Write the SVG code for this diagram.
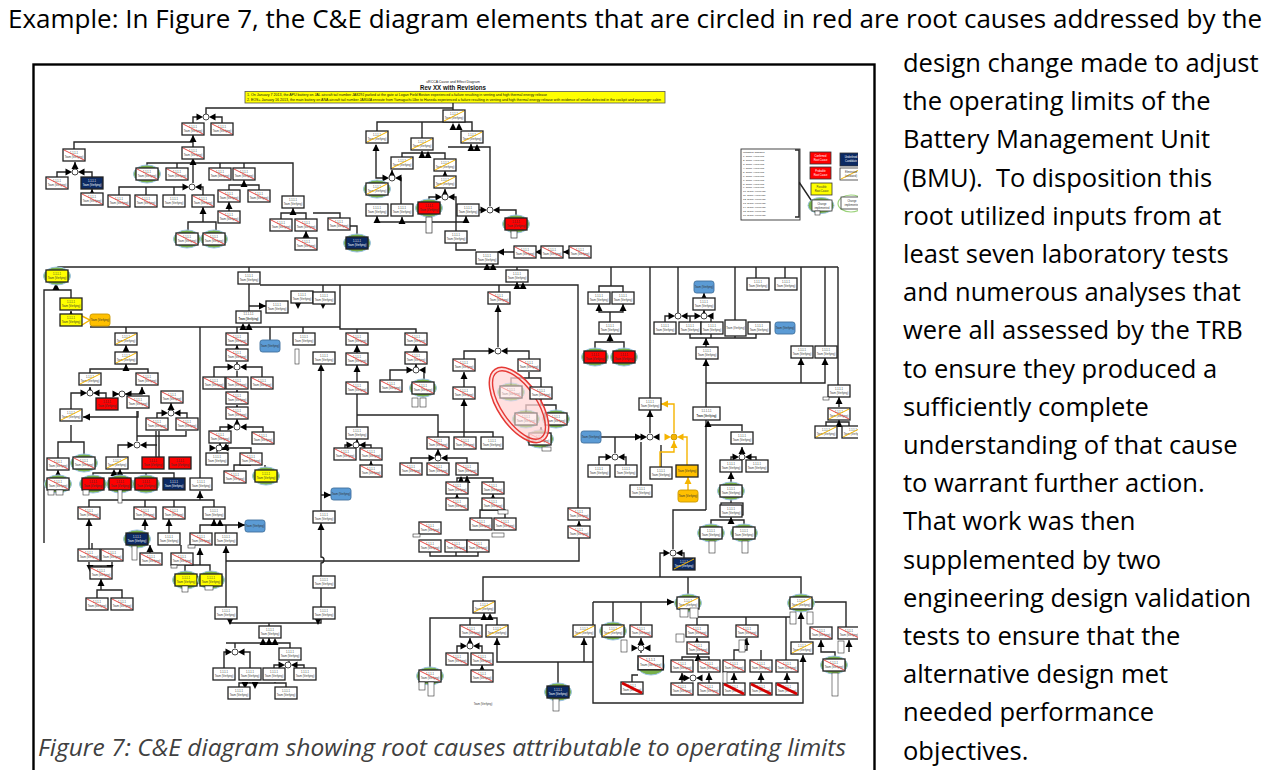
<svg xmlns="http://www.w3.org/2000/svg" xmlns:xlink="http://www.w3.org/1999/xlink" width="1270" height="770" viewBox="0 0 1270 770">
<style>
.t{font-family:"Open Sans","Noto Sans",sans-serif;font-size:25.5px;fill:#000}
.cap{font-family:"Open Sans","Noto Sans",sans-serif;font-style:italic;font-size:23px;fill:#404040}
.c{fill:none;stroke:#262626;stroke-width:1.4}
.co{fill:none;stroke:#f5b400;stroke-width:1.4}
.bx{fill:#fff;stroke:#222;stroke-width:1.3}
.tx{font-family:"Liberation Sans",Arial,sans-serif;font-size:2.6px;fill:#333;text-anchor:middle}
.tw{font-family:"Liberation Sans",Arial,sans-serif;font-size:2.6px;fill:#fff;text-anchor:middle}
.sr{stroke:#e53935;stroke-width:0.9}
.sy{stroke:#f4b400;stroke-width:1}
.ah{fill:#000}
.lg{font-family:"Liberation Sans",Arial,sans-serif;font-size:2.5px;fill:#222}
</style>
<defs>
<g id="bw"><rect class="bx" width="22" height="12"/><text class="tx" x="11" y="4.6">1.1.1.1</text><text class="tx" x="11" y="8.6">Team (Verifying)</text></g>
<g id="r"><use href="#bw"/><path class="sr" d="M1,1 L21,11"/></g>
<g id="y"><use href="#bw"/><path class="sy" d="M1,11 L21,1"/></g>
<g id="ry"><use href="#bw"/><path class="sr" d="M1,1 L21,11"/><path class="sy" d="M1,11 L21,1"/></g>
<g id="X"><use href="#bw"/><path d="M1,1 L21,11" stroke="#d50000" stroke-width="2.8"/></g>
<g id="R"><rect width="22" height="12" fill="#ff0000" stroke="#222" stroke-width="1.3"/><text class="tx" x="11" y="4.6">1.1.1.1</text><text class="tx" x="11" y="8.6">Team (Verifying)</text></g>
<g id="Y"><rect width="22" height="12" fill="#ffff00" stroke="#222" stroke-width="1.3"/><text class="tx" x="11" y="4.6">1.1.1.1</text><text class="tx" x="11" y="8.6">Team (Verifying)</text></g>
<g id="N"><rect width="22" height="12" fill="#0c2a63" stroke="#222" stroke-width="1.3"/><text class="tw" x="11" y="4.6">1.1.1.1</text><text class="tw" x="11" y="8.6">Team (Verifying)</text></g>
<g id="yN"><use href="#N"/><path class="sy" d="M1,11 L21,1"/></g>
<g id="B"><rect width="20" height="12" rx="2.5" fill="#5b9bd5" stroke="#41719c" stroke-width="0.9"/><text class="tx" x="10" y="7">Team (Verifying)</text></g>
<g id="O"><rect width="20" height="12" rx="2.5" fill="#ffc000" stroke="#c99700" stroke-width="0.9"/><text class="tx" x="10" y="7">Team (Verifying)</text></g>
<g id="Ob"><rect width="22" height="12" fill="#ffc000" stroke="#222" stroke-width="1.3"/><text class="tx" x="11" y="7">Team (Verifying)</text></g>
<ellipse id="ge" cx="11" cy="6" rx="13.5" ry="9" fill="#77b04a" stroke="#9cc3e5" stroke-width="1"/>
<g id="gr"><use href="#ge"/><use href="#r"/></g>
<g id="gy"><use href="#ge"/><use href="#y"/></g>
<g id="gw"><use href="#ge"/><use href="#bw"/></g>
<g id="gR"><use href="#ge"/><use href="#R"/></g>
<g id="gY"><use href="#ge"/><use href="#Y"/></g>
<g id="gN"><use href="#ge"/><use href="#N"/></g>
<path id="u" class="ah" d="M-3.5,7 L3.5,7 L0,0Z"/>
<path id="d" class="ah" d="M-3.5,-7 L3.5,-7 L0,0Z"/>
<path id="ar" class="ah" d="M-7,-3.5 L-7,3.5 L0,0Z"/>
<path id="al" class="ah" d="M7,-3.5 L7,3.5 L0,0Z"/>
<g id="j"><path class="ah" d="M-9.5,-3.5 L-3,0 L-9.5,3.5Z M9.5,-3.5 L3,0 L9.5,3.5Z"/><circle r="3" fill="#fff" stroke="#444" stroke-width="1"/></g>
<g id="jo"><path fill="#f5b400" d="M-9.5,-3.5 L-3,0 L-9.5,3.5Z M9.5,-3.5 L3,0 L9.5,3.5Z"/><circle r="3" fill="#f5b400" stroke="#c99700" stroke-width="0.9"/></g>
<clipPath id="cp"><rect x="35" y="66" width="823" height="704"/></clipPath>
</defs>

<rect width="1270" height="770" fill="#fff"/>

<g id="page-text">
<text class="t" x="8" y="28" textLength="1254" lengthAdjust="spacingAndGlyphs">Example: In Figure 7, the C&amp;E diagram elements that are circled in red are root causes addressed by the</text>
<text class="t" x="903" y="72">design change made to adjust</text>
<text class="t" x="903" y="110.2">the operating limits of the</text>
<text class="t" x="903" y="148.4">Battery Management Unit</text>
<text class="t" x="903" y="186.6" xml:space="preserve">(BMU).  To disposition this</text>
<text class="t" x="903" y="224.8">root utilized inputs from at</text>
<text class="t" x="903" y="263">least seven laboratory tests</text>
<text class="t" x="903" y="301.2">and numerous analyses that</text>
<text class="t" x="903" y="339.4">were all assessed by the TRB</text>
<text class="t" x="903" y="377.6">to ensure they produced a</text>
<text class="t" x="903" y="415.8">sufficiently complete</text>
<text class="t" x="903" y="454">understanding of that cause</text>
<text class="t" x="903" y="492.2">to warrant further action.</text>
<text class="t" x="903" y="530.4">That work was then</text>
<text class="t" x="903" y="568.6">supplemented by two</text>
<text class="t" x="903" y="606.8">engineering design validation</text>
<text class="t" x="903" y="645">tests to ensure that the</text>
<text class="t" x="903" y="683.2">alternative design met</text>
<text class="t" x="903" y="721.4">needed performance</text>
<text class="t" x="903" y="759.6">objectives.</text>
</g>

<g id="figure-frame">
<rect x="33.5" y="64.5" width="841" height="730" fill="none" stroke="#000" stroke-width="2.4"/>
<text class="cap" x="38" y="756" textLength="808" lengthAdjust="spacingAndGlyphs">Figure 7: C&amp;E diagram showing root causes attributable to operating limits</text>
</g>

<g clip-path="url(#cp)">
<g id="title">
<text x="453" y="82.5" text-anchor="middle" font-family="Liberation Sans, Arial, sans-serif" font-size="3.5" fill="#222">uRCCA Cause and Effect Diagram</text>
<text x="453" y="89.5" text-anchor="middle" font-family="Liberation Sans, Arial, sans-serif" font-size="7.5" font-weight="bold" fill="#111" textLength="66" lengthAdjust="spacingAndGlyphs">Rev XX with Revisions</text>
<rect x="245" y="91.5" width="420" height="11.5" fill="#ffff00" stroke="#555" stroke-width="0.8"/>
<text x="247" y="96" font-family="Liberation Sans, Arial, sans-serif" font-size="2.7" fill="#111" textLength="300" lengthAdjust="spacingAndGlyphs">1.     On January 7 2013, the APU battery on JAL aircraft tail number JA829J parked at the gate at Logan Field Boston experienced a failure resulting in venting and high thermal energy release</text>
<text x="247" y="100.5" font-family="Liberation Sans, Arial, sans-serif" font-size="2.7" fill="#111" textLength="414" lengthAdjust="spacingAndGlyphs">2.     EOS+ January 16 2013, the main battery on ANA aircraft tail number JA804A enroute from Yamaguchi-Ube to Haneda experienced a failure resulting in venting and high thermal energy release with evidence of smoke detected in the cockpit and passenger cabin</text>
</g>

<g id="connectors">
<path class="c" d="M453,103 V110 M206,114 V108 H453 M193,123 V117 H199 M222,123 V117 H213 M193,147 V135 M74,149 V142 H193 M75,167 V162 M57,177 V172 H68 M92,177 V172 H82 M92,193 V189"/>
<path class="c" d="M147,168 V163 H293 V196 M177,168 V163 M220,168 V163 M244,168 V163 M193,158 V183 M119,195 V187 H185 M146,195 V187 M174,195 V187 M203,195 V187 H199 M188,232 V222 H216 V232 M203,222 V207 M229,190 V185 H259 V190 M244,185 V180 M229,211 V202 M281,219 V213 H306 V219 M293,213 V208 M306,238 V231"/>
<path class="c" d="M377,131 V122 H472 V131 M453,122 V123 M422,138 V122 M376,145 V178 H384 M400,178 H401 V204 M402,157 V153 H445 V159 M422,151 V153 M445,176 V171 M392,174 V170 M429,202 V197 H437 M456,231 V197 H453 M445,193 V189 M479,210 H482 M516,218 V210 H498 M490,206 V147 H471 V144 M448,147 H471"/>
<path class="c" d="M376,222 H466 M377,222 V216 M402,222 V217 M429,222 V215 M466,222 V216 M541,252 H535 M569,252 H563 M514,252 H498 M456,243 V250 H476 M487,263 V267 M313,213 H340 V218 M357,236 V226 H339 V230"/>
<path class="c" d="M58,270 V267 H838 M249,267 V311 M249,306 H266 M323,285 V292 M260,285 H578 V508 M499,285 V292 M517,282 V285 M517,267 V270 M44,543 V290 H71 V298 M56,290 V283 M71,314 V311"/>
<path class="co" d="M82,316 L90,320 L82,325"/>
<path class="c" d="M90,327 H340 M340,285 V329 H416 V333 M357,329 V333 M200,327 V478 M126,327 V333 M126,352 V345 M90,373 V369 H148 V373 M126,369 V364 M90,387 V390 M71,409 V393 H82 M106,398 V393 H98 M114,394 H142 V387 M83,417 H138 V411"/>
<path class="c" d="M157,418 V413 H163 M187,418 V413 H179 M171,409 V403 M137,411 V441 M137,436 H186 V431 M156,431 V457 M159,431 V457 M118,457 V445 H129 M157,445 H145 M93,478 V473 H174 V478 M120,478 V469 M146,478 V473 M58,478 V470 M58,458 V442 H84 V457 M71,442 V425 M89,507 V500 H214 V507 M145,500 V507 M174,500 V507 M200,500 V491"/>
<path class="c" d="M237,327 V333 M237,349 V345 M237,362 V363 M214,377 V367 H229 M262,377 V367 H245 M237,377 V371 M237,392 V390 M237,407 V405 M237,419 V423 M220,431 V427 H229 M263,432 V427 H245 M217,453 V448 H251 V453 M220,448 V443 M234,471 V465 H251 M265,470 V465 M270,327 V340 M303,327 V333"/>
<path class="c" d="M357,353 V345 M357,382 V365 M357,394 V441 M357,415 H438 V437 M438,432 H493 V437 M416,352 V345 M416,364 V366 M390,380 V370 H407 M424,380 V370 H424 M321,367 V511 M321,523 V557 A3,3 0 0 1 321,563 V576 M321,588 V607 M321,495 H331"/>
<path class="c" d="M345,448 V445 H348 M371,448 V445 H365 M371,465 V461 M411,463 V458 H430 M467,463 V458 H446 M438,449 V454 M457,482 V478 H493 V482 M467,478 V476 M457,498 V494 M493,498 V494 M464,387 V372 M464,399 V438 M464,359 V351 H490 M529,359 V351 H506 M498,347 V305"/>
<path class="c" d="M529,372 V378 H541 V387 M511,385 V378 H529 M526,412 V405 H556 V412 M541,399 V405 M541,432 V427 M226,561 H579 V537 M579,521 V526"/>
<path class="c" d="M650,267 V398 M678,267 V313 M735,267 V320 M756,267 V278 M785,267 V278 M801,267 V346 M825,267 V346 M838,267 V385 M611,267 V286 M599,292 V286 H623 V292 M599,304 V312 H623 V304 M610,312 V322 M595,351 V342 H624 V351 M610,342 V334 M704,293 V298"/>
<path class="c" d="M665,322 V316 H670 M690,322 V316 H686 M696,316 H690 M711,322 V316 H712 M704,313 V310 M690,334 V338 H756 V334 M706,338 V347 M735,336 V338 M711,334 V338 M706,359 V407 M706,420 V510 M706,383 H825 V358 M801,383 V358 M839,397 V407 M826,426 V422 H849 V426 M839,420 V422"/>
<path class="c" d="M650,433 V410 M601,437 H642 M599,465 V457 H607 M626,465 V457 H623 M615,453 V437 M661,467 V445 M641,485 V442 M706,425 H742 V431 M742,447 V452 M731,460 V457 H734 M756,460 V457 H750 M731,483 V472 M731,503 V499"/>
<path class="co" d="M674,433 V404 H661 M687,465 V437 H682 M660,467 V452 H674 V441 M688,490 V477"/>
<path class="c" d="M731,520 V517 M711,526 V520 H744 V526 M660,577 V553 H665 M684,558 V553 H681 M673,549 V510 H706 M483,601 V577 H801 V597 M688,577 V597 M593,602 H674 M613,602 V624 M641,602 V625 M593,602 V703 H803 V655"/>
<path class="c" d="M690,617 H790 M697,617 V625 M746,617 V625 M786,617 V660 M697,638 V642 M682,660 V657 H709 V660 M698,654 V657 M682,673 V683 M709,673 V683 M747,638 V650 H734 V660 M761,650 V660 M734,673 V683 M761,673 V683 M787,673 V683 M641,638 V653 M632,682 V675 H638 M813,602 H846 V627 M821,640 V652 H835 V658 M849,640 V652 M801,612 V642"/>
<path class="c" d="M430,668 V618 H497 V625 M470,618 V625 M484,613 V618 M470,638 V642 M457,653 V646 H462 M482,653 V646 H478 M482,670 V665 M497,638 V662 H593 M558,662 V683 M584,638 V662 M430,552 V556 H478 V552 M456,552 V556 M480,518 V510 H505 V518 M457,510 V510"/>
<path class="c" d="M226,607 V546 M214,525 H245 M200,533 V525 H214 V519 M226,533 V525 M89,549 V519 M89,562 V566 H112 V562 M101,566 V567 M101,579 V590 M97,598 V590 H122 V598 M145,519 V530 M150,553 V545 M169,533 V519 M181,553 V545 M185,574 V565 H210 V574 M200,565 V548"/>
<path class="c" d="M230,619 V623 H321 V619 M269,626 V623 M226,643 H290 V648 M269,643 V638 M224,668 V652 H227 M250,668 V652 H243 M235,648 V643 M274,668 V665 H280 M304,668 V665 H297 M289,661 V665 M239,687 V683 H286 V687 M250,683 V682 M275,683 V682 M92,543 V549"/>
</g>

<g id="arrowheads">
<use href="#u" x="193" y="135"/><use href="#u" x="75" y="162"/><use href="#u" x="92" y="189"/><use href="#u" x="193" y="158"/><use href="#u" x="203" y="207"/><use href="#u" x="244" y="180"/><use href="#u" x="229" y="202"/><use href="#u" x="293" y="208"/><use href="#u" x="306" y="231"/>
<use href="#u" x="453" y="123"/><use href="#u" x="459" y="123"/><use href="#u" x="376" y="144"/><use href="#u" x="392" y="170"/><use href="#u" x="422" y="151"/><use href="#u" x="428" y="151"/><use href="#u" x="445" y="171"/><use href="#u" x="445" y="189"/><use href="#u" x="471" y="144"/><use href="#u" x="477" y="144"/><use href="#u" x="377" y="216"/><use href="#u" x="402" y="217"/><use href="#u" x="466" y="216"/><use href="#u" x="487" y="263"/><use href="#u" x="493" y="263"/><use href="#u" x="517" y="282"/><use href="#u" x="523" y="282"/>
<use href="#u" x="56" y="283"/><use href="#u" x="71" y="311"/><use href="#u" x="249" y="323"/><use href="#u" x="243" y="323"/><use href="#u" x="126" y="345"/><use href="#u" x="126" y="364"/><use href="#u" x="90" y="387"/><use href="#u" x="171" y="403"/><use href="#u" x="142" y="387"/><use href="#u" x="120" y="469"/><use href="#u" x="114" y="469"/><use href="#u" x="58" y="470"/><use href="#u" x="200" y="491"/>
<use href="#u" x="237" y="345"/><use href="#u" x="237" y="362"/><use href="#u" x="237" y="390"/><use href="#u" x="237" y="405"/><use href="#u" x="237" y="419"/><use href="#u" x="220" y="443"/><use href="#u" x="226" y="443"/><use href="#u" x="357" y="345"/><use href="#u" x="357" y="365"/><use href="#u" x="416" y="345"/><use href="#u" x="416" y="364"/><use href="#u" x="321" y="364"/><use href="#u" x="321" y="523"/><use href="#u" x="357" y="439"/><use href="#u" x="371" y="461"/><use href="#u" x="438" y="449"/><use href="#u" x="467" y="476"/><use href="#u" x="461" y="476"/><use href="#u" x="457" y="494"/><use href="#u" x="493" y="494"/><use href="#u" x="464" y="372"/><use href="#u" x="464" y="399"/><use href="#u" x="498" y="305"/><use href="#u" x="541" y="427"/><use href="#u" x="579" y="521"/>
<use href="#u" x="599" y="304"/><use href="#u" x="623" y="304"/><use href="#u" x="610" y="334"/><use href="#u" x="704" y="293"/><use href="#u" x="704" y="310"/><use href="#u" x="706" y="359"/><use href="#u" x="801" y="358"/><use href="#u" x="825" y="358"/><use href="#u" x="839" y="397"/><use href="#u" x="839" y="420"/><use href="#u" x="650" y="410"/><use href="#u" x="742" y="447"/><use href="#u" x="731" y="472"/><use href="#u" x="731" y="517"/><use href="#u" x="708" y="420"/><use href="#u" x="706" y="338"/>
<use href="#u" x="697" y="638"/><use href="#u" x="746" y="638"/><use href="#u" x="698" y="654"/><use href="#u" x="682" y="673"/><use href="#u" x="709" y="673"/><use href="#u" x="734" y="673"/><use href="#u" x="761" y="673"/><use href="#u" x="787" y="673"/><use href="#u" x="803" y="655"/><use href="#u" x="801" y="612"/><use href="#u" x="641" y="638"/><use href="#u" x="484" y="613"/><use href="#u" x="490" y="613"/><use href="#u" x="470" y="638"/><use href="#u" x="482" y="665"/><use href="#u" x="497" y="638"/><use href="#u" x="584" y="638"/><use href="#u" x="821" y="640"/><use href="#u" x="849" y="640"/>
<use href="#u" x="226" y="546"/><use href="#u" x="200" y="548"/><use href="#u" x="169" y="519"/><use href="#u" x="89" y="519"/><use href="#u" x="101" y="579"/><use href="#u" x="150" y="545"/><use href="#u" x="269" y="638"/><use href="#u" x="275" y="638"/><use href="#u" x="263" y="638"/><use href="#u" x="214" y="519"/><use href="#u" x="220" y="519"/><use href="#u" x="145" y="519"/>
<use href="#ar" x="266" y="306"/><use href="#ar" x="331" y="495"/><use href="#ar" x="642" y="437"/><use href="#ar" x="245" y="525"/><use href="#ar" x="674" y="602"/><use href="#ar" x="701" y="306"/>
<use href="#al" x="83" y="417"/><use href="#al" x="497" y="252"/><use href="#al" x="535" y="252"/><use href="#al" x="563" y="252"/>
<use href="#d" x="298" y="309"/><use href="#d" x="230" y="625"/><use href="#d" x="318" y="625"/><use href="#d" x="245" y="689"/><use href="#d" x="255" y="689"/><use href="#d" x="90" y="572"/><use href="#d" x="110" y="572"/><use href="#d" x="323" y="309"/>
<path fill="#f5b400" d="M661,404 L668,400.5 L668,407.5Z M688,477 L684.5,484 L691.5,484Z M674,441 L670.5,448 L677.5,448Z"/>
</g>

<g id="junctions">
<use href="#j" x="206" y="117"/><use href="#j" x="75" y="172"/><use href="#j" x="192" y="187"/><use href="#j" x="392" y="178"/><use href="#j" x="445" y="197"/><use href="#j" x="490" y="210"/>
<use href="#j" x="90" y="393"/><use href="#j" x="122" y="394"/><use href="#j" x="171" y="413"/><use href="#j" x="137" y="445"/><use href="#j" x="237" y="367"/><use href="#j" x="237" y="427"/><use href="#j" x="219" y="448"/>
<use href="#j" x="416" y="370"/><use href="#j" x="356" y="445"/><use href="#j" x="438" y="458"/><use href="#j" x="498" y="351"/>
<use href="#j" x="678" y="316"/><use href="#j" x="704" y="316"/><use href="#j" x="650" y="437"/><use href="#j" x="615" y="457"/><use href="#j" x="742" y="457"/><use href="#j" x="673" y="553"/><use href="#j" x="470" y="646"/><use href="#j" x="693" y="678"/><use href="#j" x="641" y="648"/>
<use href="#j" x="235" y="652"/><use href="#j" x="288" y="665"/>
<use href="#jo" x="674" y="437"/>
</g>

<g id="n-top-left">
<use href="#r" x="182" y="123"/><use href="#r" x="211" y="123"/><use href="#r" x="182" y="147"/><use href="#r" x="63" y="149"/><use href="#r" x="46" y="177"/><use href="#N" x="81" y="177"/><use href="#r" x="81" y="193"/>
<use href="#gr" x="136" y="168"/><use href="#r" x="166" y="168"/><use href="#r" x="209" y="168"/><use href="#r" x="233" y="168"/>
<use href="#r" x="108" y="195"/><use href="#r" x="135" y="195"/><use href="#bw" x="163" y="195"/><use href="#r" x="192" y="195"/><use href="#r" x="218" y="190"/><use href="#r" x="248" y="190"/><use href="#r" x="218" y="211"/>
<use href="#gr" x="176" y="233"/><use href="#gr" x="203" y="233"/><use href="#bw" x="282" y="196"/><use href="#r" x="270" y="219"/><use href="#r" x="295" y="219"/><use href="#r" x="295" y="238"/>
</g>

<g id="n-top-center">
<use href="#y" x="443" y="110"/><use href="#y" x="366" y="131"/><use href="#y" x="461" y="131"/><use href="#y" x="411" y="138"/><use href="#y" x="391" y="157"/><use href="#y" x="434" y="159"/><use href="#y" x="434" y="176"/>
<use href="#gy" x="366" y="183"/><use href="#bw" x="366" y="204"/><use href="#bw" x="391" y="204"/><use href="#gR" x="418" y="202"/><use href="#bw" x="457" y="204"/><use href="#gR" x="505" y="218"/><use href="#bw" x="445" y="231"/>
<use href="#r" x="514" y="246"/><use href="#r" x="541" y="246"/><use href="#r" x="569" y="246"/><use href="#bw" x="476" y="252"/><use href="#r" x="328" y="218"/><use href="#gN" x="346" y="237"/><use href="#bw" x="506" y="270"/>
<rect x="426" y="217" width="6" height="16" fill="#fff" stroke="#333" stroke-width="0.7"/><rect x="511" y="231" width="6" height="7" fill="#fff" stroke="#333" stroke-width="0.7"/>
</g>

<g id="legend">
<rect x="741" y="149" width="59" height="71" fill="#fff" stroke="#333" stroke-width="0.9"/>
<text class="lg" x="743" y="153">Mitigation Changes</text>
<text class="lg" x="743" y="157.2">1.   Team: [Verifying]</text><text class="lg" x="743" y="161.1">2.   Team: [Verifying]</text><text class="lg" x="743" y="165">3.   Team: [Verifying]</text><text class="lg" x="743" y="168.9">4.   Team: [Verifying]</text><text class="lg" x="743" y="172.8">5.   Team: [Verifying]</text><text class="lg" x="743" y="176.7">6.   Team: [Verifying]</text><text class="lg" x="743" y="180.6">7.   Team: [Verifying]</text><text class="lg" x="743" y="184.5">8.   Team: [Verifying]</text><text class="lg" x="743" y="188.4">9.   Team: [Verifying]</text><text class="lg" x="743" y="192.3">10. Team: [Verifying]</text><text class="lg" x="743" y="196.2">11. Team: [Verifying]</text><text class="lg" x="743" y="200.1">12. Team: [Verifying]</text><text class="lg" x="743" y="204">13. Team: [Verifying]</text><text class="lg" x="743" y="207.9">14. Team: [Verifying]</text><text class="lg" x="743" y="211.8">15. Team: [Verifying]</text><text class="lg" x="743" y="215.7">16. Team: [Verifying]</text>
<path class="c" d="M795,150 H799 V217 H795 M799,182 L813,203" stroke-width="0.8"/>
<rect x="810" y="152" width="21" height="12" fill="#f00" stroke="#333" stroke-width="0.8"/><text class="tw" x="820.5" y="157">Confirmed</text><text class="tw" x="820.5" y="161">Root Cause</text>
<rect x="810" y="167" width="21" height="12" fill="#f00" stroke="#333" stroke-width="0.8"/><text class="tw" x="820.5" y="172">Probable</text><text class="tw" x="820.5" y="176">Root Cause</text>
<rect x="811" y="183" width="21" height="12" fill="#ff0" stroke="#333" stroke-width="0.8"/><text class="tx" x="821.5" y="188">Possible</text><text class="tx" x="821.5" y="192">Root Cause</text>
<ellipse cx="821" cy="205.5" rx="13" ry="8" fill="#77b04a" stroke="#9cc3e5"/><rect x="812" y="200" width="20" height="11" fill="#fff" stroke="#333" stroke-width="0.8"/><text class="tx" x="822" y="204.5">Change</text><text class="tx" x="822" y="208.5">implemented</text><rect x="815" y="211" width="5" height="4" fill="#fff" stroke="#333" stroke-width="0.6"/>
<rect x="840" y="153" width="22" height="13" fill="#0c2a63" stroke="#333" stroke-width="0.8"/><text class="tw" x="851" y="158">Underlined</text><text class="tw" x="851" y="162">Candidate</text>
<rect x="840" y="168" width="22" height="12" fill="#fff" stroke="#333" stroke-width="0.8"/><path class="sy" d="M841,179 L861,169"/><text class="tx" x="851" y="173">Eliminated</text><text class="tx" x="851" y="177">(validated)</text>
<ellipse cx="851" cy="203.5" rx="13" ry="8.5" fill="#fff" stroke="#9bd27a" stroke-width="1.2"/><rect x="841" y="197" width="22" height="12" fill="#fff" stroke="#333" stroke-width="0.8"/><text class="tx" x="852" y="202">Change</text><text class="tx" x="852" y="206">implemented</text>
</g>

<g id="n-mid-left">
<use href="#gY" x="46" y="270"/><use href="#Y" x="60" y="298"/><use href="#Y" x="60" y="314"/><use href="#O" x="90" y="314"/>
<use href="#bw" x="238" y="272"/><use href="#bw" x="291" y="291"/><use href="#bw" x="266" y="301"/>
<g><rect class="bx" x="236" y="311" width="25" height="12"/><text class="tx" x="248.5" y="315">1.1.1.1.1</text><text class="tx" x="248.5" y="320" font-weight="bold" font-size="3">Team (Verifying)</text></g>
<use href="#y" x="115" y="333"/><use href="#y" x="115" y="352"/><use href="#y" x="79" y="373"/><use href="#r" x="136" y="373"/>
<use href="#R" x="96" y="398"/><use href="#r" x="127" y="396"/><use href="#r" x="161" y="391"/><use href="#y" x="60" y="409"/><use href="#r" x="146" y="418"/><use href="#r" x="176" y="418"/>
<use href="#r" x="47" y="458"/><use href="#gr" x="73" y="457"/><use href="#y" x="106" y="457"/><use href="#R" x="142" y="457"/><use href="#R" x="169" y="457"/>
<use href="#gr" x="47" y="478"/><use href="#gR" x="82" y="478"/><use href="#gR" x="109" y="478"/><use href="#gR" x="135" y="478"/><use href="#N" x="163" y="478"/><use href="#bw" x="190" y="478"/>
<use href="#r" x="226" y="333"/><use href="#r" x="226" y="349"/><use href="#r" x="203" y="377"/><use href="#r" x="226" y="377"/><use href="#r" x="251" y="377"/><use href="#r" x="226" y="392"/><use href="#r" x="226" y="407"/>
<use href="#r" x="209" y="431"/><use href="#r" x="252" y="432"/><use href="#bw" x="206" y="453"/><use href="#r" x="240" y="453"/><use href="#r" x="224" y="471"/><use href="#gY" x="255" y="470"/>
<use href="#B" x="260" y="340"/><use href="#bw" x="293" y="333"/>
<rect x="295" y="349" width="4" height="15" fill="#fff" stroke="#333" stroke-width="0.6"/><rect x="48" y="490" width="6" height="5" fill="#fff" stroke="#333" stroke-width="0.6"/><rect x="56" y="490" width="7" height="5" fill="#fff" stroke="#333" stroke-width="0.6"/><rect x="118" y="490" width="4" height="13" fill="#fff" stroke="#333" stroke-width="0.6"/><rect x="83" y="490" width="6" height="5" fill="#fff" stroke="#333" stroke-width="0.6"/>
</g>

<g id="n-mid-center">
<use href="#bw" x="313" y="292"/><use href="#r" x="346" y="333"/><use href="#r" x="346" y="353"/><use href="#r" x="405" y="333"/><use href="#r" x="405" y="352"/><use href="#bw" x="313" y="352"/><use href="#r" x="346" y="382"/>
<use href="#r" x="380" y="380"/><use href="#gr" x="412" y="382"/><rect x="412" y="398" width="6" height="9" fill="#fff" stroke="#333" stroke-width="0.6"/><rect x="420" y="398" width="6" height="9" fill="#fff" stroke="#333" stroke-width="0.6"/>
<use href="#bw" x="346" y="427"/><use href="#r" x="334" y="448"/><use href="#r" x="360" y="448"/><use href="#r" x="360" y="465"/>
<use href="#r" x="427" y="437"/><use href="#r" x="400" y="463"/><use href="#r" x="427" y="463"/><use href="#r" x="456" y="463"/><use href="#r" x="446" y="482"/><use href="#r" x="482" y="482"/><use href="#r" x="446" y="498"/><use href="#r" x="482" y="498"/>
<use href="#r" x="488" y="292"/><use href="#r" x="453" y="359"/><use href="#r" x="453" y="387"/><use href="#r" x="454" y="437"/><use href="#bw" x="481" y="437"/><use href="#r" x="518" y="359"/>
<use href="#B" x="331" y="488"/><use href="#B" x="581" y="431"/>
<use href="#gr" x="545" y="413"/><use href="#gr" x="529" y="433"/>
<rect x="542" y="447" width="9" height="4" fill="#fff" stroke="#333" stroke-width="0.6"/>
</g>

<g id="highlight">
<g transform="translate(519,405) rotate(56)">
<ellipse rx="43" ry="21" fill="#ffd6d6" fill-opacity="0.75" stroke="#e53935" stroke-width="1.5"/>
<ellipse rx="39.5" ry="17.5" fill="none" stroke="#e53935" stroke-width="1.4"/>
</g>
<g opacity="0.45"><use href="#gr" x="500" y="386"/><use href="#gr" x="515" y="413"/></g>
<use href="#r" x="530" y="387"/>
</g>

<g id="n-right">
<use href="#bw" x="588" y="292"/><use href="#bw" x="612" y="292"/><use href="#bw" x="599" y="322"/><use href="#gR" x="584" y="351"/><use href="#gR" x="613" y="351"/>
<use href="#B" x="694" y="281"/><use href="#bw" x="693" y="298"/><use href="#bw" x="654" y="322"/><use href="#bw" x="679" y="322"/><use href="#bw" x="701" y="322"/>
<g><rect class="bx" x="725" y="320" width="21" height="16"/><text class="tx" x="735.5" y="329">Team (Verifying)</text></g>
<use href="#bw" x="748" y="322"/><use href="#B" x="775" y="322"/><use href="#bw" x="747" y="278"/><use href="#bw" x="775" y="278"/>
<use href="#bw" x="696" y="347"/><use href="#bw" x="791" y="346"/><use href="#bw" x="815" y="346"/><use href="#bw" x="828" y="385"/><use href="#ry" x="828" y="408"/><use href="#y" x="815" y="426"/><use href="#y" x="842" y="426"/>
<rect x="823" y="397" width="6" height="3" fill="#fff" stroke="#333" stroke-width="0.6"/>
<use href="#bw" x="639" y="398"/><use href="#bw" x="588" y="465"/><use href="#bw" x="615" y="465"/><use href="#bw" x="650" y="467"/><use href="#bw" x="630" y="485"/>
<use href="#Ob" x="676" y="465"/><use href="#O" x="678" y="490"/>
<g><rect class="bx" x="693" y="407" width="27" height="13"/><text class="tx" x="706.5" y="411.5">1.1.1.1.1</text><text class="tx" x="706.5" y="416.5" font-weight="bold" font-size="3">Team (Verifying)</text></g>
<use href="#bw" x="731" y="432"/><use href="#bw" x="720" y="460"/><use href="#bw" x="746" y="460"/><use href="#gw" x="720" y="485"/><use href="#bw" x="721" y="503"/>
</g>

<g id="n-bottom-right">
<use href="#bw" x="720" y="505"/><use href="#gw" x="700" y="527"/><use href="#gw" x="733" y="527"/>
<rect x="709" y="541" width="6" height="12" fill="#fff" stroke="#333" stroke-width="0.6"/><rect x="742" y="541" width="6" height="12" fill="#fff" stroke="#333" stroke-width="0.6"/>
<use href="#yN" x="673" y="558"/><use href="#gy" x="677" y="597"/><use href="#gy" x="790" y="597"/><use href="#gy" x="602" y="625"/><use href="#r" x="630" y="625"/>
<rect x="621" y="640" width="6" height="12" fill="#fff" stroke="#333" stroke-width="0.6"/><rect x="680" y="609" width="8" height="8" fill="#fff" stroke="#333" stroke-width="0.6"/><rect x="690" y="608" width="8" height="10" fill="#fff" stroke="#333" stroke-width="0.6"/>
<use href="#ge" x="640" y="660"/><g transform="translate(638,656) scale(1.15)"><use href="#r"/></g><use href="#X" x="621" y="682"/>
<use href="#r" x="686" y="625"/><use href="#r" x="687" y="642"/><use href="#r" x="671" y="660"/><use href="#r" x="698" y="660"/><use href="#r" x="671" y="683"/><use href="#r" x="698" y="683"/>
<rect x="676" y="634" width="8" height="8" fill="#fff" stroke="#333" stroke-width="0.6"/>
<use href="#r" x="736" y="625"/><use href="#r" x="723" y="660"/><use href="#r" x="750" y="660"/><use href="#X" x="723" y="683"/><use href="#X" x="750" y="683"/><use href="#r" x="776" y="660"/><use href="#X" x="776" y="683"/>
<rect x="739" y="640" width="6" height="12" fill="#fff" stroke="#333" stroke-width="0.6"/><rect x="723" y="672" width="4" height="11" fill="#fff" stroke="#333" stroke-width="0.6"/>
<use href="#y" x="791" y="642"/><use href="#r" x="810" y="627"/><use href="#r" x="838" y="627"/><use href="#gr" x="823" y="659"/>
<rect x="790" y="612" width="6" height="12" fill="#fff" stroke="#333" stroke-width="0.6"/><rect x="807" y="612" width="6" height="12" fill="#fff" stroke="#333" stroke-width="0.6"/><rect x="838" y="641" width="6" height="12" fill="#fff" stroke="#333" stroke-width="0.6"/><rect x="832" y="673" width="6" height="23" fill="#fff" stroke="#333" stroke-width="0.6"/>
</g>

<g id="n-bottom-center">
<use href="#r" x="419" y="522"/><use href="#r" x="419" y="540"/><use href="#r" x="445" y="540"/><use href="#r" x="467" y="540"/><use href="#r" x="470" y="518"/><use href="#r" x="494" y="518"/><use href="#r" x="568" y="508"/><use href="#r" x="568" y="526"/>
<rect x="498" y="510" width="10" height="4" fill="#fff" stroke="#333" stroke-width="0.6"/><rect x="413" y="534" width="7" height="3" fill="#fff" stroke="#333" stroke-width="0.6"/><rect x="492" y="533" width="12" height="4" fill="#fff" stroke="#333" stroke-width="0.6"/>
<use href="#bw" x="313" y="511"/><use href="#bw" x="313" y="576"/><use href="#bw" x="313" y="607"/>
<use href="#y" x="473" y="601"/><use href="#r" x="460" y="625"/><use href="#y" x="486" y="625"/><use href="#r" x="446" y="653"/><use href="#r" x="471" y="653"/><use href="#r" x="471" y="670"/>
<use href="#gr" x="419" y="670"/><rect x="419" y="682" width="6" height="8" fill="#fff" stroke="#333" stroke-width="0.6"/><rect x="428" y="682" width="6" height="14" fill="#fff" stroke="#333" stroke-width="0.6"/>
<use href="#gN" x="547" y="686"/><rect x="553" y="699" width="6" height="12" fill="#fff" stroke="#333" stroke-width="0.6"/>
<use href="#y" x="573" y="625"/>
<text class="tx" x="483" y="705">Team (Verifying)</text>
</g>

<g id="n-bottom-left">
<use href="#r" x="78" y="507"/><use href="#r" x="134" y="507"/><use href="#r" x="163" y="507"/><use href="#bw" x="203" y="507"/>
<use href="#r" x="78" y="549"/><use href="#r" x="101" y="549"/><use href="#r" x="90" y="567"/><use href="#r" x="86" y="598"/><use href="#r" x="111" y="598"/>
<use href="#gN" x="126" y="533"/><rect x="132" y="546" width="5" height="14" fill="#fff" stroke="#333" stroke-width="0.6"/>
<use href="#r" x="140" y="553"/><use href="#bw" x="158" y="533"/><use href="#r" x="171" y="553"/><rect x="171" y="565" width="6" height="3" fill="#fff" stroke="#333" stroke-width="0.6"/>
<use href="#r" x="190" y="533"/><use href="#bw" x="215" y="533"/><use href="#B" x="245" y="520"/><rect x="188" y="545" width="7" height="3" fill="#fff" stroke="#333" stroke-width="0.6"/>
<use href="#gY" x="175" y="574"/><use href="#gY" x="200" y="574"/><rect x="182" y="586" width="6" height="6" fill="#fff" stroke="#333" stroke-width="0.6"/><rect x="205" y="586" width="8" height="4" fill="#fff" stroke="#333" stroke-width="0.6"/>
<use href="#bw" x="215" y="607"/><use href="#bw" x="259" y="626"/><use href="#bw" x="279" y="648"/>
<use href="#bw" x="213" y="668"/><use href="#bw" x="239" y="668"/><use href="#bw" x="263" y="668"/><use href="#bw" x="294" y="668"/><use href="#bw" x="228" y="687"/><use href="#bw" x="275" y="687"/>
</g>
</g>
</svg>
